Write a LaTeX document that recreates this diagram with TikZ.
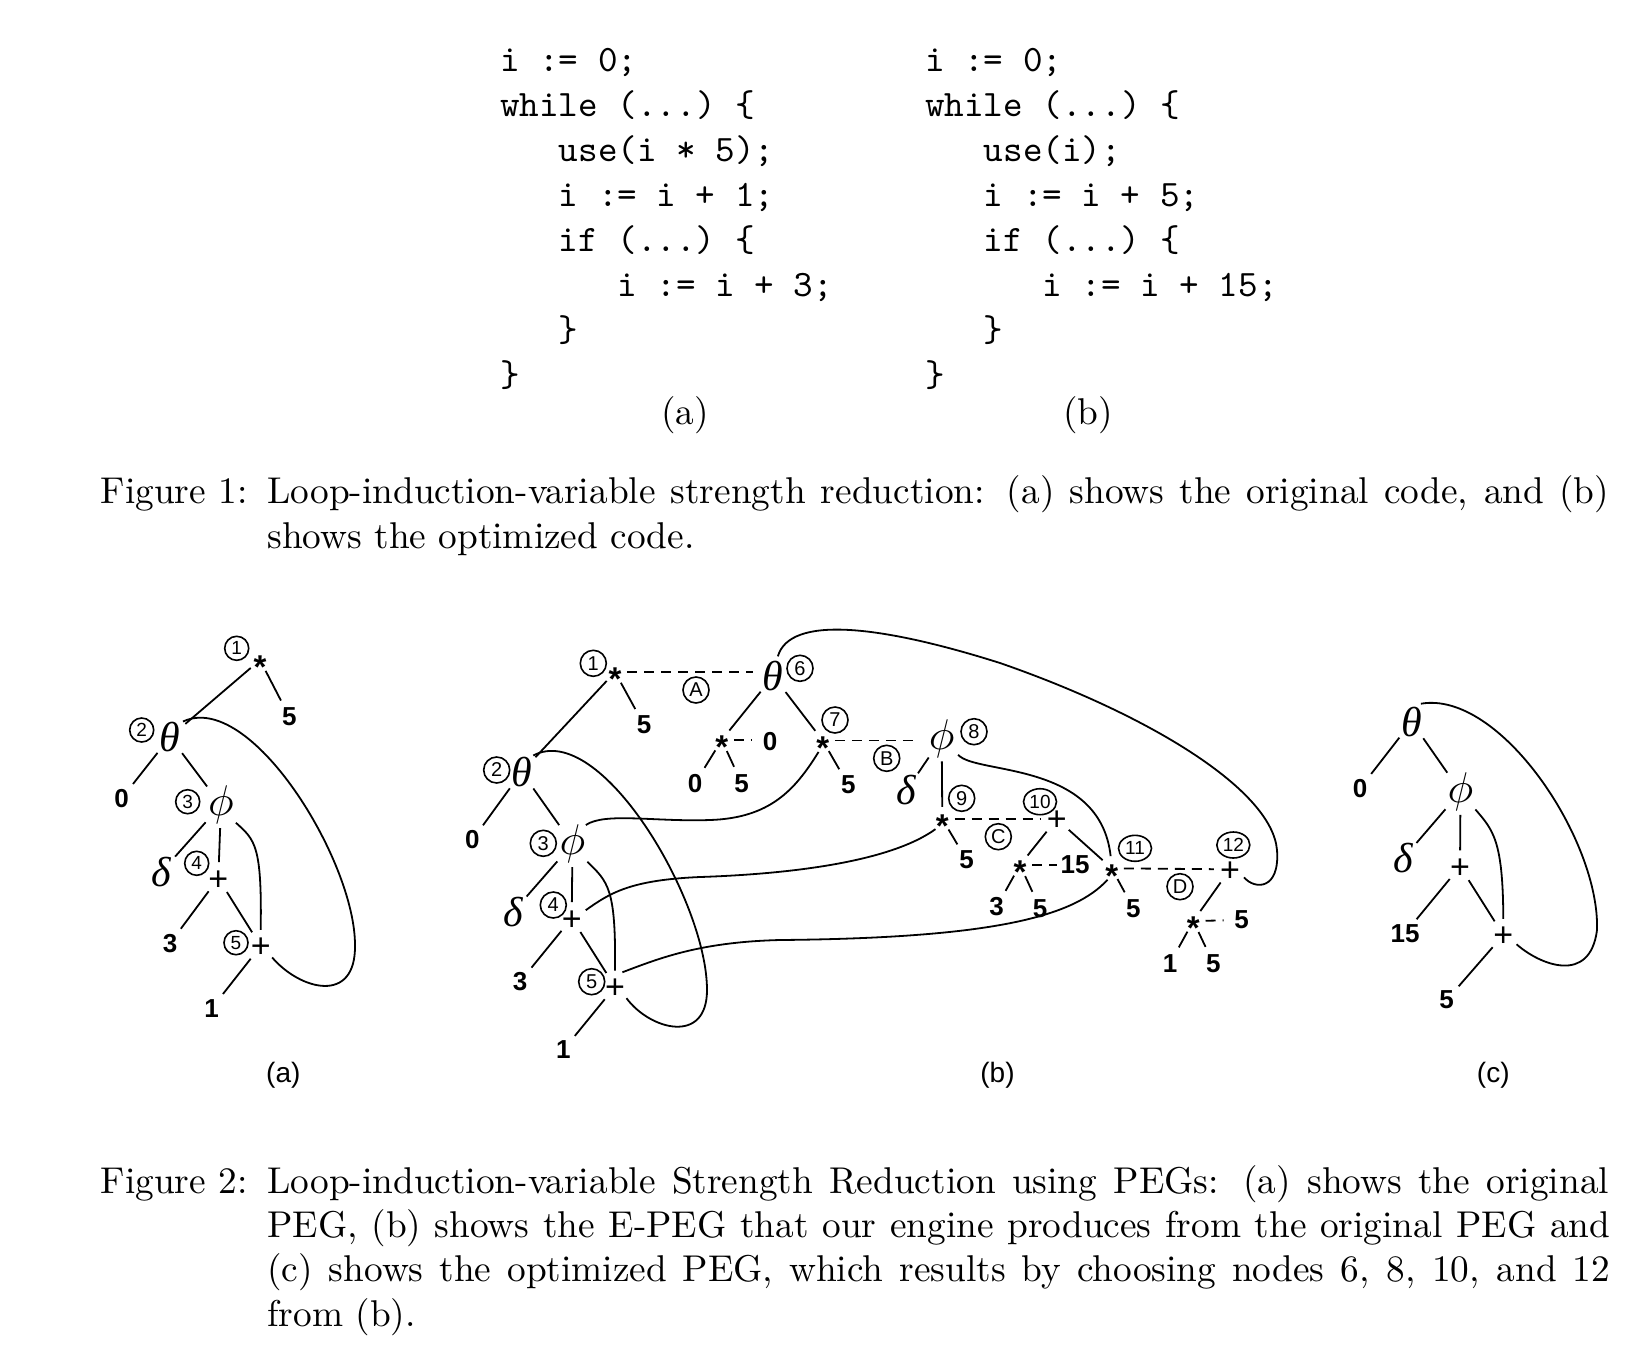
\documentclass[tikz,border=0pt]{standalone}
\usepackage{fontspec}
\usepackage{graphicx}
\usetikzlibrary{shapes.geometric}
\newfontfamily\lsans{Liberation Sans}
\newfontfamily\gserif{Liberation Serif}
\newcommand\Sc[1]{\scalebox{3.73}{#1}}
\newcommand\Gk[1]{{\gserif\itshape\fontsize{42}{42}\selectfont #1}}
\newcommand\Gphi{\scalebox{4.3}{$\phi$}}
\newcommand\opst{\raisebox{-0.57em}{*}}
\newcommand\oppl{\raisebox{-0.35em}{+}}
\tikzset{
  edge/.style={line width=1.8pt},
  dsh/.style={line width=1.8pt, dash pattern=on 10pt off 7pt},
  num/.style={circle, inner sep=0pt, minimum size=36pt, font=\lsans\bfseries\fontsize{26}{28}\selectfont},
  grk/.style={circle, inner sep=0pt, minimum size=40pt},
  opstar/.style={circle, inner sep=0pt, minimum size=24pt, text height=0pt, text depth=0pt, font=\lsans\bfseries\fontsize{33}{33}\selectfont},
  opplus/.style={circle, inner sep=0pt, minimum size=32pt, text height=0pt, text depth=0pt, font=\lsans\fontsize{34}{34}\selectfont},
  cl/.style={draw, circle, line width=1.6pt, inner sep=0pt, minimum size=24pt, font=\lsans\fontsize{19}{19}\selectfont},
  clb/.style={draw, circle, line width=1.6pt, inner sep=0pt, minimum size=26pt, font=\lsans\fontsize{20}{20}\selectfont},
  clw/.style={draw, ellipse, line width=1.6pt, inner sep=0pt, minimum width=33pt, minimum height=26pt, font=\lsans\fontsize{19}{19}\selectfont},
  txt/.style={anchor=base west, inner sep=0pt},
  sub/.style={anchor=base, inner sep=0pt, font=\lsans\fontsize{28}{28}\selectfont},
}
\begin{document}
\begin{tikzpicture}[x=1pt, y=-1pt]
\fill[white] (0,0) rectangle (1643,1350);
\useasboundingbox (0,0) rectangle (1643,1350);

% ---------- Code (a)
\begin{scope}[every node/.style={txt}]
\node (ca0) at (500,71.7)  {\Sc{\ttfamily\frenchspacing i := 0;}};
\node (ca1l) at (500,116.6) {\Sc{\ttfamily\frenchspacing while (...) \{}};
\node (ca2l) at (558.7,161.5) {\Sc{\ttfamily\frenchspacing use(i * 5);}};
\node (ca3l) at (558.7,206.4) {\Sc{\ttfamily\frenchspacing i := i + 1;}};
\node (ca4l) at (558.7,251.3) {\Sc{\ttfamily\frenchspacing if (...) \{}};
\node (ca5l) at (617.5,296.2) {\Sc{\ttfamily\frenchspacing i := i + 3;}};
\node (ca6l) at (558.7,341.1) {\Sc{\ttfamily \}}};
\node (ca7l) at (500,386.0) {\Sc{\ttfamily \}}};
% ---------- Code (b)
\node (cb0) at (925,71.7)  {\Sc{\ttfamily\frenchspacing i := 0;}};
\node (cb1l) at (925,116.6) {\Sc{\ttfamily\frenchspacing while (...) \{}};
\node (cb2l) at (983.7,161.5) {\Sc{\ttfamily\frenchspacing use(i);}};
\node (cb3l) at (983.7,206.4) {\Sc{\ttfamily\frenchspacing i := i + 5;}};
\node (cb4l) at (983.7,251.3) {\Sc{\ttfamily\frenchspacing if (...) \{}};
\node (cb5l) at (1042.5,296.2) {\Sc{\ttfamily\frenchspacing i := i + 15;}};
\node (cb6l) at (983.7,341.1) {\Sc{\ttfamily \}}};
\node (cb7l) at (925,386.0) {\Sc{\ttfamily \}}};
\end{scope}
\node[anchor=base, inner sep=0pt] (la) at (685,424) {\Sc{(a)}};
\node[anchor=base, inner sep=0pt] (lb) at (1088.3,424) {\Sc{(b)}};

% ---------- Caption 1
\node[txt] (f1a) at (100.5,503.3) {\Sc{\makebox[404.4pt][s]{\makebox[44.7pt][l]{Figure 1:}Loop-induction-variable strength reduction: (a) shows the original code, and (b)}}};
\node[txt] (f1b) at (267.2,548) {\Sc{shows the optimized code.}};

% ---------- Caption 2
\node[txt] (f2a) at (100.5,1193.3) {\Sc{\makebox[404.4pt][s]{\makebox[44.7pt][l]{Figure 2:}Loop-induction-variable Strength Reduction using PEGs: (a) shows the original}}};
\node[txt] (f2b) at (267.2,1237.5) {\Sc{\makebox[360pt][s]{PEG, (b) shows the E-PEG that our engine produces from the original PEG and}}};
\node[txt] (f2c) at (267.2,1281.7) {\Sc{\makebox[360pt][s]{(c) shows the optimized PEG, which results by choosing nodes 6, 8, 10, and 12}}};
\node[txt] (f2d) at (267.2,1326) {\Sc{from (b).}};

% ---------- Sub labels
\node[sub] (sa) at (283.3,1082) {(a)};
\node[sub] (sb) at (997.5,1082) {(b)};
\node[sub] (sc) at (1493.3,1082) {(c)};

% ================= Graph (a)
\node[opstar] (a1) at (260,660) {\opst};
\node[cl] (qa1) at (236.7,648.3) {1};
\node[num] (a1n5) at (289.3,716.7) {5};
\node[grk] (a2) at (170,737) {\Gk{θ}};
\node[cl] (qa2) at (141.7,730) {2};
\node[num] (a2n0) at (121.7,798.3) {0};
\node[grk] (a3) at (221,805) {\Gphi};
\node[cl] (qa3) at (187.7,801.7) {3};
\node[grk] (ad) at (161.7,871.7) {\Gk{δ}};
\node[opplus] (a4) at (218.3,878.3) {\oppl};
\node[cl] (qa4) at (196.7,863.3) {4};
\node[num] (a4n3) at (170,943.3) {3};
\node[opplus] (a5) at (260.7,946) {\oppl};
\node[cl] (qa5) at (236,942.7) {5};
\node[num] (a5n1) at (211.7,1008.3) {1};

\draw[edge] (a1) -- (a1n5);
\draw[edge] (a1) -- (a2);
\draw[edge] (a2) -- (a2n0);
\draw[edge] (a2) -- (a3);
\draw[edge] (a3) -- (ad);
\draw[edge] (a3) -- (a4);
\draw[edge] (a4) -- (a4n3);
\draw[edge] (a4) -- (a5);
\draw[edge] (a5) -- (a5n1);
\draw[edge] (a3.-50) .. controls (255,840) and (262,845) .. (a5.90);
\draw[edge] (a5.-45) .. controls (300,990) and (356,1005) .. (355,945) .. controls (355,860) and (250,690) .. (a2.50);

% ================= Graph (b)
\node[opstar] (b1) at (615,672) {\opst};
\node[clb] (qb1) at (593.3,663.3) {1};
\node[num] (b1n5) at (644,725) {5};
\node[grk] (b6) at (773.3,676) {\Gk{θ}};
\node[clb] (qb6) at (800,668.3) {6};
\node[clb] (qA) at (696,690) {A};
\node[grk] (b2) at (521.7,772) {\Gk{θ}};
\node[clb] (qb2) at (496.7,770) {2};
\node[num] (b2n0) at (472.3,840) {0};
\node[grk] (b3) at (572.5,844) {\Gphi};
\node[clb] (qb3) at (543.3,843.3) {3};
\node[grk] (bd3) at (513.3,911.7) {\Gk{δ}};
\node[opplus] (b4) at (571.7,918.3) {\oppl};
\node[clb] (qb4) at (553.3,905) {4};
\node[num] (b4n3) at (520,981.7) {3};
\node[opplus] (b5) at (615,986.7) {\oppl};
\node[clb] (qb5) at (591.7,981.7) {5};
\node[num] (b5n1) at (563.3,1050) {1};

\node[opstar] (bs) at (721.7,740) {\opst};
\node[num] (bsr) at (770,741.7) {0};
\node[num] (bs0) at (695,783.3) {0};
\node[num] (bs5) at (741.7,783.3) {5};

\node[opstar] (b7) at (822.7,740.5) {\opst};
\node[clb] (qb7) at (835,720) {7};
\node[num] (b7n5) at (848.3,785) {5};
\node[clb] (qB) at (886.7,758.3) {B};
\node[grk] (b8) at (941.7,738.3) {\Gphi};
\node[clb] (qb8) at (974,731.7) {8};
\node[grk] (bd8) at (906.7,790) {\Gk{δ}};

\node[opstar] (b9) at (942.3,819) {\opst};
\node[clb] (qb9) at (961.7,798.3) {9};
\node[num] (b9n5) at (966.7,860) {5};
\node[clb] (qC) at (998.3,836.7) {C};
\node[opplus] (b10) at (1056.7,819) {\oppl};
\node[clw] (qb10) at (1040,801.7) {10};
\node[opstar] (bt) at (1020,865) {\opst};
\node[num] (bt15) at (1075,865) {15};
\node[num] (bt3) at (996.7,906.7) {3};
\node[num] (bt5) at (1040,908.3) {5};

\node[opstar] (b11) at (1111.7,868.3) {\opst};
\node[clw] (qb11) at (1135,848.3) {11};
\node[num] (b11n5) at (1133.3,908.3) {5};
\node[clb] (qD) at (1180,886.7) {D};
\node[opplus] (b12) at (1230,869.3) {\oppl};
\node[clw] (qb12) at (1233.3,845) {12};
\node[opstar] (bu) at (1193.3,921) {\opst};
\node[num] (bur) at (1241.7,920) {5};
\node[num] (bu1) at (1170,963.3) {1};
\node[num] (bu5) at (1213.3,963.3) {5};

\draw[edge] (b1) -- (b1n5);
\draw[edge] (b1) -- (b2);
\draw[edge] (b2) -- (b2n0);
\draw[edge] (b2) -- (b3);
\draw[edge] (b3) -- (bd3);
\draw[edge] (b3) -- (b4);
\draw[edge] (b4) -- (b4n3);
\draw[edge] (b4) -- (b5);
\draw[edge] (b5) -- (b5n1);
\draw[edge] (b6) -- (bs);
\draw[edge] (bs) -- (bs0);
\draw[edge] (bs) -- (bs5);
\draw[edge] (b6) -- (b7);
\draw[edge] (b7) -- (b7n5);
\draw[edge] (b8) -- (bd8);
\draw[edge] (b8) -- (b9);
\draw[edge] (b9) -- (b9n5);
\draw[edge] (b10) -- (bt);
\draw[edge] (bt) -- (bt3);
\draw[edge] (bt) -- (bt5);
\draw[edge] (b10) -- (b11);
\draw[edge] (b11) -- (b11n5);
\draw[edge] (b12) -- (bu);
\draw[edge] (bu) -- (bu1);
\draw[edge] (bu) -- (bu5);

\draw[dsh] (b1) -- (b1 -| b6.west);
\draw[dsh] (bs) -- (bs -| bsr.west);
\draw[dsh] (b7) -- (b7 -| b8.west);
\draw[dsh] (b9) -- (b10);
\draw[dsh] (bt) -- (bt15);
\draw[dsh] (b11) -- (b12);
\draw[dsh] (bu) -- (bur);

\draw[edge] (b3.-50) .. controls (608,882) and (616,888) .. (b5.90);
\draw[edge] (b5.-45) .. controls (650,1030) and (707,1045) .. (707,990) .. controls (707,900) and (600,720) .. (b2.55);
\draw[edge] (b7.-110) .. controls (795,790) and (770,818) .. (710,820) .. controls (655,822) and (605,812) .. (b3.55);
\draw[edge] (b4.30) .. controls (610,893) and (630,880) .. (700,877) .. controls (790,874) and (890,862) .. (b9.-124);
\draw[edge] (b5.63) .. controls (660,958) and (700,942) .. (780,940) .. controls (1000,938) and (1075,915) .. (b11.-110);
\draw[edge] (b8.-45) .. controls (975,775) and (1100,760) .. (b11.95);
\draw[edge] (b12.-30) .. controls (1255,890) and (1280,890) .. (1277,850) .. controls (1272,790) and (1150,715) .. (1000,663) .. controls (880,625) and (790,615) .. (b6.77);

% ================= Graph (c)
\node[grk] (ct) at (1411.7,721.7) {\Gk{θ}};
\node[num] (c0) at (1360,788.3) {0};
\node[grk] (cp) at (1460.5,791.7) {\Gphi};
\node[grk] (cd) at (1403.3,858.3) {\Gk{δ}};
\node[opplus] (ca) at (1460,866.5) {\oppl};
\node[num] (c15) at (1405,933.3) {15};
\node[opplus] (cb) at (1503.3,935) {\oppl};
\node[num] (c5) at (1446.7,1000) {5};

\draw[edge] (ct) -- (c0);
\draw[edge] (ct) -- (cp);
\draw[edge] (cp) -- (cd);
\draw[edge] (cp) -- (ca);
\draw[edge] (ca) -- (c15);
\draw[edge] (ca) -- (cb);
\draw[edge] (cb) -- (c5);
\draw[edge] (cp.-50) .. controls (1493,830) and (1503,840) .. (cb.90);
\draw[edge] (cb.-35) .. controls (1540,965) and (1590,985) .. (1597,930) .. controls (1600,840) and (1500,690) .. (ct.63);
\end{tikzpicture}
\end{document}
